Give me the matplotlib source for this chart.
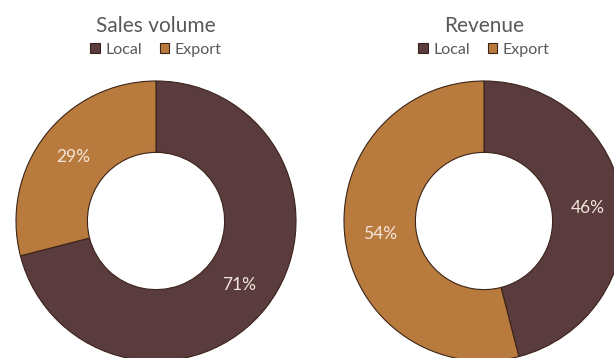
import matplotlib
matplotlib.use("Agg")
import matplotlib.pyplot as plt

# data
categories = ["Local", "Export"]
sales_volume = [71, 29]
revenue = [46, 54]
titles = ["Sales volume", "Revenue"]

colors = ["#5a3b3e", "#b97a3d"]
W, H = 614, 358

plt.rcParams['font.family'] = ['Lato', 'DejaVu Sans']
fig = plt.figure(figsize=(W / 100, H / 100), dpi=100)
fig.patch.set_facecolor("white")

R = 140  # donut radius in px
centers = [(156, 221), (484, 221)]

for (cx, cy), vals, title in zip(centers, [sales_volume, revenue], titles):
    ax = fig.add_axes([(cx - R) / W, (H - cy - R) / H, 2 * R / W, 2 * R / H])
    wedges, _, autotexts = ax.pie(
        vals, colors=colors, startangle=90, counterclock=False,
        autopct=lambda p: f"{p:.0f}%", pctdistance=0.75,
        wedgeprops=dict(width=0.51, edgecolor="#3a2418", linewidth=0.8),
        textprops=dict(color="#f3e6da", fontsize=12.5),
    )
    ax.set_xlim(-1, 1)
    ax.set_ylim(-1, 1)
    ax.set_aspect("equal")
    ax.axis("off")

    fig.text(cx / W, 1 - 26 / H, title, ha="center", va="center",
             fontsize=15, color="#595959")
    fig.legend(wedges, categories, loc="center", ncol=2,
               bbox_to_anchor=(cx / W, 1 - 50 / H), frameon=False,
               fontsize=11.5, labelcolor="#595959", handlelength=0.6,
               handleheight=0.6, handletextpad=0.35, columnspacing=1.1,
               borderpad=0, borderaxespad=0)

fig.savefig("out.png", dpi=100)
